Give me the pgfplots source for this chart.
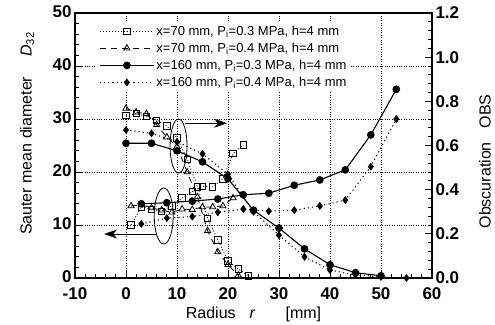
\documentclass[border=0pt]{standalone}
\usepackage{fontspec}
\setmainfont{Liberation Sans}
\usepackage{pgfplots}
\pgfplotsset{compat=1.18}
\usetikzlibrary{arrows.meta}

\begin{document}
\begin{tikzpicture}
\path[use as bounding box] (-75pt,-46pt) rectangle (420pt,278pt);
\begin{axis}[
  at={(0pt,0pt)}, anchor=south west,
  scale only axis, width=357pt, height=265pt,
  xmin=-10, xmax=60, ymin=0, ymax=50,
  xtick={-10,0,10,20,30,40,50,60}, ytick={0,10,20,30,40,50},
  minor x tick num=4, minor y tick num=4,
  tick align=inside, xtick pos=left, ytick pos=left,
  grid=major, major grid style={dash pattern=on 0.8pt off 1.6pt, black, line width=0.6pt},
  axis line style={line width=1.2pt},
  major tick length=7pt, minor tick length=4.5pt,
  every tick/.style={black, line width=0.8pt},
  tick label style={font=\fontsize{17}{17}\selectfont\bfseries},
  xticklabel style={yshift=-6pt},
  yticklabel style={yshift=1.5pt},
  /pgf/number format/assume math mode=true,
  xlabel={Radius\hspace{14pt}\textit{r}\hspace{30pt}[mm]},
  xlabel style={font=\fontsize{16}{16}\selectfont, at={(axis description cs:0.5,-0.138)}, anchor=center},
  ylabel={Sauter mean diameter\hspace{20pt}\textit{D}\textsubscript{32}},
  ylabel style={font=\fontsize{16}{16}\selectfont, at={(axis description cs:-0.134,0.545)}, anchor=center},
  legend style={at={(rel axis cs:0.062,0.968)}, anchor=north west, draw=none, fill=white,
    font=\fontsize{13}{14}\selectfont, row sep=2.2pt, inner sep=2pt},
  legend cell align=left,
  legend image code/.code={\draw[mark repeat=2,mark phase=2] plot coordinates {(0pt,0pt) (27pt,0pt) (54pt,0pt)};},
]
\addplot[black, line width=0.8pt, dash pattern=on 1pt off 2pt, mark=square, mark options={solid, fill=white, line width=0.8pt}, mark size=3.2pt]
coordinates {(1,10.0) (3,13.4) (5,13.0) (7,12.6) (9,13.6) (11,15.1) (13,16.3) (15,17.3) (17,17.2) (19,18.7) (21,23.5) (23,25.1)};
\addlegendentry{x=70 mm, P\textsubscript{i}=0.3 MPa, h=4 mm}
\addplot[black, line width=0.8pt, dash pattern=on 6pt off 5pt, mark=triangle, mark options={solid, fill=white, line width=0.8pt}, mark size=3.6pt]
coordinates {(1,13.6) (3,13.8) (5,13.2) (7,12.8) (9,12.4) (11,13.0) (13,12.9) (15,13.4) (17,13.4) (19,13.6) (21,15.1)};
\addlegendentry{x=70 mm, P\textsubscript{i}=0.4 MPa, h=4 mm}
\addplot[black, line width=1.1pt, solid, mark=*, mark size=3.3pt]
coordinates {(3,14.0) (8,14.2) (13,14.5) (18,14.9) (23,15.7) (28,16.0) (33,17.5) (38,18.5) (43,20.4) (48,27.0) (53,35.6)};
\addlegendentry{x=160 mm, P\textsubscript{i}=0.3 MPa, h=4 mm}
\addplot[black, line width=1pt, dash pattern=on 1.2pt off 3pt, mark=diamond*, mark options={solid}, mark size=3.2pt]
coordinates {(3,10.2) (8,11.3) (13,11.6) (18,12.4) (23,13.0) (28,12.6) (33,12.8) (38,13.6) (43,14.7) (48,21.0) (53,30.0)};
\addlegendentry{x=160 mm, P\textsubscript{i}=0.4 MPa, h=4 mm}

\draw[line width=0.8pt] (axis cs:10.3,24.9) ellipse [x radius=8.5pt, y radius=27pt];
\draw[line width=0.8pt, -{Stealth[length=13pt,width=9pt,inset=4pt]}] (axis cs:11.5,29.2) -- (axis cs:19.8,29.2);
\draw[line width=0.8pt] (axis cs:7.4,11.7) ellipse [x radius=9.5pt, y radius=28pt];
\draw[line width=0.8pt, -{Stealth[length=13pt,width=9pt,inset=4pt]}] (axis cs:5.8,8.3) -- (axis cs:-4.3,8.3);
\end{axis}

\begin{axis}[
  at={(0pt,0pt)}, anchor=south west,
  scale only axis, width=357pt, height=265pt,
  xmin=-10, xmax=60, ymin=0, ymax=1.2,
  hide x axis,
  ytick={0,0.2,0.4,0.6,0.8,1.0,1.2},
  minor y tick num=4,
  tick align=inside, ytick pos=right, yticklabel pos=right,
  axis line style={line width=1.2pt},
  major tick length=7pt, minor tick length=4.5pt,
  every tick/.style={black, line width=0.8pt},
  tick label style={font=\fontsize{17}{17}\selectfont\bfseries},
  /pgf/number format/assume math mode=true,
  yticklabel style={/pgf/number format/.cd, fixed, fixed zerofill, precision=1},
  ylabel={Obscuration\hspace{14pt}OBS},
  ylabel style={font=\fontsize{16}{16}\selectfont, at={(axis description cs:1.148,0.44)}, anchor=center, rotate=0},
]
\addplot[black, line width=0.8pt, dash pattern=on 1pt off 2pt, mark=square, mark options={solid, fill=white, line width=0.8pt}, mark size=3.2pt]
coordinates {(0,0.737) (2,0.744) (4,0.732) (6,0.715) (8,0.689) (10,0.634) (12,0.538) (14,0.413) (16,0.271) (18,0.173) (20,0.077) (22,0.041) (24,0.010)};
\addplot[black, line width=0.8pt, dash pattern=on 6pt off 5pt, mark=triangle, mark options={solid, fill=white, line width=0.8pt}, mark size=3.6pt]
coordinates {(0,0.768) (2,0.751) (4,0.744) (6,0.694) (8,0.638) (10,0.595) (12,0.480) (14,0.367) (16,0.214) (18,0.118) (20,0.060) (22,0.012)};
\addplot[black, line width=1.1pt, solid, mark=*, mark size=3.3pt]
coordinates {(0,0.610) (5,0.610) (10,0.576) (15,0.526) (20,0.449) (25,0.307) (30,0.226) (35,0.132) (40,0.060) (45,0.024) (50,0.010)};
\addplot[black, line width=1pt, dash pattern=on 1.2pt off 3pt, mark=diamond*, mark options={solid}, mark size=3.2pt]
coordinates {(0,0.670) (5,0.655) (10,0.617) (15,0.562) (20,0.470) (25,0.300) (30,0.194) (35,0.096) (40,0.036) (45,0.014) (50,0.005) (55,0.000)};
\end{axis}
\end{tikzpicture}
\end{document}
